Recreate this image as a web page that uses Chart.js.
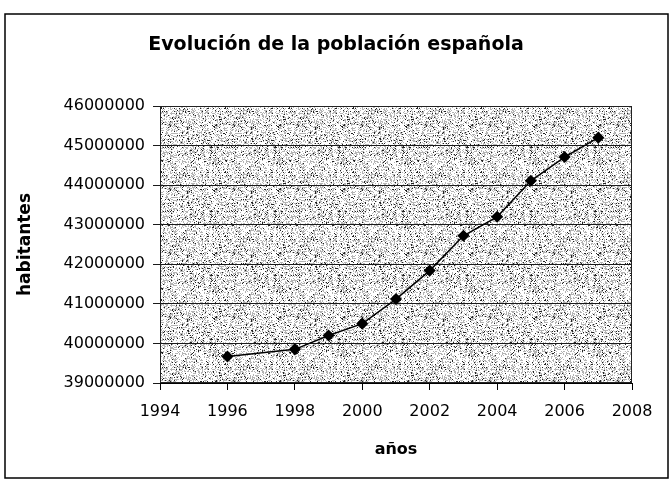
<!DOCTYPE html>
<html lang="es">
<head>
    <meta charset="UTF-8">
    <title>Evolución de la población española</title>
    <script src="https://cdn.jsdelivr.net/npm/chart.js"></script>
    <style>
        body { margin: 0; background: #fff; }
        #popChart { display: block; }
    </style>
</head>
<body>
    <canvas id="popChart" width="670" height="481"></canvas>
    <script>
        // data
        const years = [1996, 1998, 1999, 2000, 2001, 2002, 2003, 2004, 2005, 2006, 2007];
        const population = [39670000, 39850000, 40200000, 40500000, 41120000, 41840000, 42720000, 43200000, 44110000, 44710000, 45200000];
        const titleText = 'Evolución de la población española';
        const xLabel = 'años';
        const yLabel = 'habitantes';

        // stippled fill like the old Excel plot area (deterministic dots)
        function makeStipple() {
            const c = document.createElement('canvas');
            c.width = 64; c.height = 64;
            const g = c.getContext('2d');
            g.fillStyle = '#ffffff';
            g.fillRect(0, 0, 64, 64);
            let seed = 12345;
            const next = () => { seed = (seed * 1103515245 + 12345) & 0x7fffffff; return seed / 0x7fffffff; };
            for (let y = 0; y < 64; y++) {
                for (let x = 0; x < 64; x++) {
                    const r = next();
                    if (r < 0.07) { g.fillStyle = '#222'; g.fillRect(x, y, 1, 1); }
                    else if (r < 0.38) { g.fillStyle = '#b4b4b4'; g.fillRect(x, y, 1, 1); }
                }
            }
            return c;
        }

        const framePlugin = {
            id: 'frame',
            beforeDraw(chart) {
                const ctx = chart.ctx;
                const a = chart.chartArea;
                ctx.save();
                ctx.fillStyle = ctx.createPattern(makeStipple(), 'repeat');
                ctx.fillRect(a.left, a.top, a.right - a.left, a.bottom - a.top);
                ctx.restore();
            },
            afterDraw(chart) {
                const ctx = chart.ctx;
                const a = chart.chartArea;
                ctx.save();
                // outer frame
                ctx.strokeStyle = '#000';
                ctx.lineWidth = 1.5;
                ctx.strokeRect(5, 14, 663, 464);
                // plot area box
                ctx.lineWidth = 1;
                ctx.strokeStyle = '#222';
                ctx.strokeRect(a.left + 0.5, a.top + 0.5, a.right - a.left - 1, a.bottom - a.top - 1);
                // title
                ctx.fillStyle = '#000';
                ctx.font = 'bold 19px "DejaVu Sans"';
                ctx.textAlign = 'center';
                ctx.textBaseline = 'middle';
                ctx.fillText(titleText, 336, 45);
                ctx.restore();
            }
        };

        const ctx = document.getElementById('popChart').getContext('2d');
        new Chart(ctx, {
            type: 'line',
            data: {
                datasets: [{
                    data: years.map((y, i) => ({ x: y, y: population[i] })),
                    borderColor: '#000',
                    borderWidth: 1.5,
                    backgroundColor: '#000',
                    pointStyle: 'rectRot',
                    pointRadius: 5,
                    pointBackgroundColor: '#000',
                    pointBorderColor: '#000',
                    fill: false,
                    tension: 0
                }]
            },
            options: {
                responsive: false,
                animation: false,
                layout: { padding: { top: 106, right: 38, bottom: 0, left: 0 } },
                plugins: {
                    legend: { display: false },
                    tooltip: { enabled: false }
                },
                scales: {
                    x: {
                        type: 'linear',
                        min: 1994,
                        max: 2008,
                        ticks: {
                            stepSize: 2,
                            color: '#000',
                            font: { family: 'DejaVu Sans', size: 16 },
                            padding: 12,
                            maxRotation: 0,
                            callback: v => String(v)
                        },
                        grid: { drawOnChartArea: false, color: '#000', tickLength: 7 },
                        border: { color: '#000', width: 1 },
                        title: {
                            display: true,
                            text: xLabel,
                            color: '#000',
                            font: { family: 'DejaVu Sans', size: 16, weight: 'bold' },
                            padding: { top: 0, bottom: 22 }
                        },
                        afterFit: scale => { scale.height = 98; }
                    },
                    y: {
                        min: 39000000,
                        max: 46000000,
                        ticks: {
                            stepSize: 1000000,
                            color: '#000',
                            font: { family: 'DejaVu Sans', size: 16 },
                            padding: 8,
                            callback: v => String(v)
                        },
                        grid: { color: '#1a1a1a', lineWidth: 1, tickLength: 7 },
                        border: { color: '#000', width: 1 },
                        title: {
                            display: true,
                            text: yLabel,
                            color: '#000',
                            font: { family: 'DejaVu Sans', size: 17, weight: 'bold' },
                            padding: { top: 15, bottom: 0 }
                        },
                        afterFit: scale => { scale.width = 160; }
                    }
                }
            },
            plugins: [framePlugin]
        });
    </script>
</body>
</html>
